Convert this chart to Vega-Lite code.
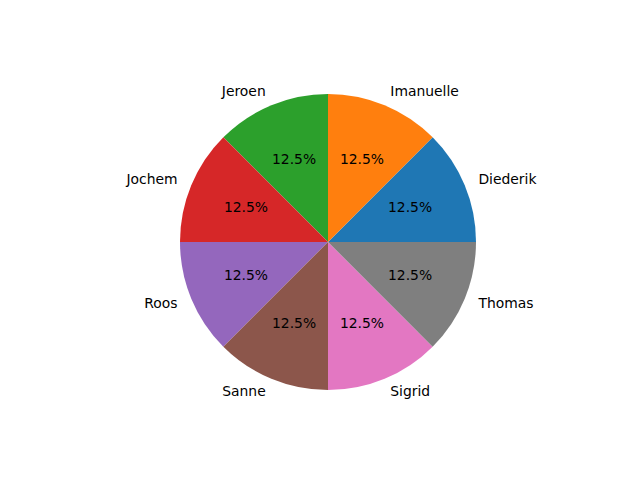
{
  "$schema": "https://vega.github.io/schema/vega-lite/v6.json",
  "width": 640,
  "height": 480,
  "autosize": {"type": "fit", "contains": "padding"},
  "padding": {"left": 16, "top": 4, "right": 0, "bottom": 0},
  "background": "white",
  "view": {"stroke": null},
  "data": {
    "values": [
      {"name": "Diederik", "k": 0, "share": 0.125},
      {"name": "Imanuelle", "k": 1, "share": 0.125},
      {"name": "Jeroen", "k": 2, "share": 0.125},
      {"name": "Jochem", "k": 3, "share": 0.125},
      {"name": "Roos", "k": 4, "share": 0.125},
      {"name": "Sanne", "k": 5, "share": 0.125},
      {"name": "Sigrid", "k": 6, "share": 0.125},
      {"name": "Thomas", "k": 7, "share": 0.125}
    ]
  },
  "encoding": {
    "theta": {"field": "share", "type": "quantitative", "stack": true, "scale": {"range": [1.5707963, 7.8539816]}},
    "order": {"field": "k", "type": "quantitative", "sort": "descending"}
  },
  "layer": [
    {
      "mark": {"type": "arc", "outerRadius": 148},
      "encoding": {
        "color": {
          "field": "name",
          "type": "nominal",
          "legend": null,
          "scale": {
            "domain": ["Diederik", "Imanuelle", "Jeroen", "Jochem", "Roos", "Sanne", "Sigrid", "Thomas"],
            "range": ["#1f77b4", "#ff7f0e", "#2ca02c", "#d62728", "#9467bd", "#8c564b", "#e377c2", "#7f7f7f"]
          }
        }
      }
    },
    {
      "mark": {"type": "text", "radius": 88.8, "fontSize": 13.9, "font": "DejaVu Sans", "color": "black", "baseline": "middle", "align": "center"},
      "encoding": {"text": {"field": "share", "type": "quantitative", "format": ".1%"}}
    },
    {
      "mark": {"type": "text", "radius": 162.8, "fontSize": 13.9, "font": "DejaVu Sans", "color": "black", "baseline": "middle",
        "align": {"expr": "datum.k < 2 || datum.k > 5 ? 'left' : 'right'"}},
      "encoding": {"text": {"field": "name", "type": "nominal"}}
    }
  ]
}
